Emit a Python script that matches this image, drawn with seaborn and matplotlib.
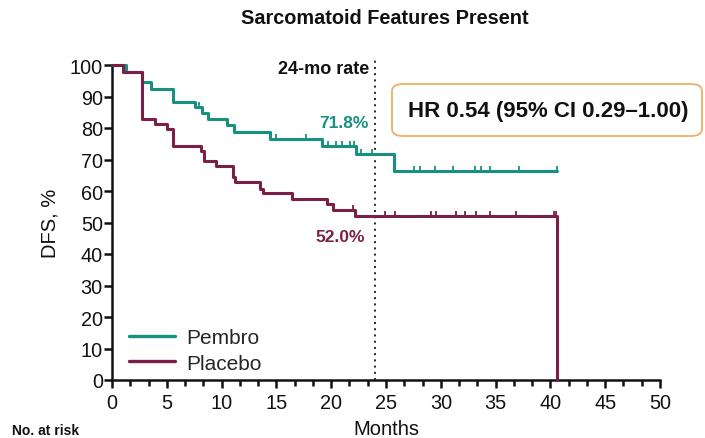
import numpy as np
import pandas as pd
import seaborn as sns
import matplotlib
matplotlib.use("Agg")
import matplotlib.pyplot as plt
from matplotlib.path import Path
from matplotlib.patches import FancyBboxPatch
from matplotlib.lines import Line2D

# Kaplan-Meier step data (months, DFS %)
pembro_t = [0, 1.3, 2.7, 3.6, 5.6, 7.6, 8.2, 8.8, 10.5, 11.1, 14.4, 19.2, 22.3, 25.7, 40.6]
pembro_s = [100, 97.9, 94.5, 92.3, 88.3, 86.6, 84.8, 82.9, 80.9, 78.6, 76.5, 74.3, 71.8, 66.4, 66.4]
pembro_cens = [7.9, 15.0, 17.7, 19.7, 20.4, 21.0, 21.7, 22.1, 22.7, 23.7, 25.8, 27.6, 28.1,
               29.5, 31.1, 33.1, 33.7, 34.5, 37.1, 40.6]

placebo_t = [0, 1.0, 2.7, 3.9, 5.0, 5.6, 8.1, 8.4, 9.5, 11.0, 11.2, 13.5, 13.8, 16.4, 19.6,
             20.2, 22.2, 40.6]
placebo_s = [100, 97.9, 82.9, 81.3, 79.8, 74.4, 72.8, 69.6, 68.0, 64.4, 62.7, 60.6, 59.4,
             57.5, 55.9, 54.0, 52.0, 0]
placebo_cens = [19.7, 22.0, 24.9, 25.8, 29.1, 29.6, 31.4, 32.2, 33.2, 34.5, 36.9, 40.3, 40.5]

arms = ["Pembro", "Placebo"]
rate_24 = [71.8, 52.0]
x_ticks = [0, 5, 10, 15, 20, 25, 30, 35, 40, 45, 50]
y_ticks = [0, 10, 20, 30, 40, 50, 60, 70, 80, 90, 100]

colors = {"Pembro": "#16917e", "Placebo": "#7a1f45"}

df = pd.concat([
    pd.DataFrame({"Months": pembro_t, "DFS": pembro_s, "Arm": "Pembro"}),
    pd.DataFrame({"Months": placebo_t, "DFS": placebo_s, "Arm": "Placebo"}),
], ignore_index=True)

sns.set_theme(style="ticks")
plt.rcParams["font.family"] = ["Liberation Sans", "DejaVu Sans"]

fig = plt.figure(figsize=(7.05, 4.39), dpi=100)
ax = fig.add_axes([112 / 705, 1 - 381 / 439, 548 / 705, 315 / 439])

sns.lineplot(data=df, x="Months", y="DFS", hue="Arm", palette=colors,
             drawstyle="steps-post", estimator=None, sort=False,
             linewidth=2.2, legend=False, ax=ax, clip_on=False, zorder=3)

# censoring marks: short ticks rising from the curve
tick_marker = Path([(0, 0), (0, 1)], [Path.MOVETO, Path.LINETO])


def step_value(times, surv, t):
    i = np.searchsorted(times, t, side="right") - 1
    return surv[i]


for arm, tt, ss, cc in [("Pembro", pembro_t, pembro_s, pembro_cens),
                        ("Placebo", placebo_t, placebo_s[:-1] + [placebo_s[-2]], placebo_cens)]:
    cy = [step_value(tt, ss, c) for c in cc]
    ax.plot(cc, cy, linestyle="none", marker=tick_marker, ms=7.5, mew=1.3,
            color=colors[arm], zorder=4, clip_on=False)

# 24-month landmark
ax.plot([24, 24], [0, 101.5], linestyle=(0, (1, 2.2)), color="#222222", lw=1.4,
        clip_on=False, zorder=2)
ax.text(23.5, 98.8, "24-mo rate", ha="right", va="center", fontsize=13,
        fontweight="bold", color="#111111")
ax.text(21.2, 81.8, f"{rate_24[0]:.1f}%", ha="center", va="center", fontsize=12.5,
        fontweight="bold", color=colors["Pembro"])
ax.text(20.8, 45.6, f"{rate_24[1]:.1f}%", ha="center", va="center", fontsize=12.5,
        fontweight="bold", color=colors["Placebo"])

# hazard ratio box
box = FancyBboxPatch((392 / 705, 1 - 137 / 439), 310 / 705, 52 / 439,
                     boxstyle="round,pad=0,rounding_size=0.016",
                     transform=fig.transFigure, facecolor="white",
                     edgecolor="#f0b46e", linewidth=1.4, zorder=5)
fig.patches.append(box)
fig.text(548 / 705, 1 - 111 / 439, "HR 0.54 (95% CI 0.29\u20131.00)", ha="center",
         va="center", fontsize=16, fontweight="bold", color="#111111", zorder=6)

ax.set_xlim(0, 50)
ax.set_ylim(0, 100)
ax.set_xticks(x_ticks)
ax.set_yticks(y_ticks)
ax.set_xticks(np.arange(0, 50.01, 5 / 3), minor=True)
ax.tick_params(axis="x", which="major", direction="out", length=6, width=1.8,
               labelsize=14.3, colors="#111111", pad=3.5)
ax.tick_params(axis="y", which="major", direction="out", length=5.6, width=1.8,
               labelsize=14.3, colors="#111111", pad=1)
ax.tick_params(axis="x", which="minor", direction="out", length=4, width=1.8,
               colors="#111111")
for side in ["top", "right"]:
    ax.spines[side].set_visible(False)
for side in ["left", "bottom"]:
    ax.spines[side].set_linewidth(1.8)
    ax.spines[side].set_color("#111111")

ax.set_xlabel("Months", fontsize=14.5, color="#111111", labelpad=5)
ax.set_ylabel("DFS, %", fontsize=14.5, color="#111111", labelpad=7.5)

fig.text(385 / 705, 1 - 18 / 439, "Sarcomatoid Features Present", ha="center",
         va="center", fontsize=14.3, fontweight="bold", color="#111111")
fig.text(12 / 705, 1 - 438 / 439, "No. at risk", ha="left", va="bottom",
         fontsize=10, fontweight="bold", color="#111111")

handles = [Line2D([0], [0], color=colors[a], lw=2.4) for a in arms]
ax.legend(handles, arms, loc="lower left", bbox_to_anchor=(0.005, -0.023),
          frameon=False, fontsize=15, handlelength=2.2, handletextpad=0.55,
          labelspacing=0.3, borderaxespad=0.3)

fig.savefig("out.png", dpi=100)
